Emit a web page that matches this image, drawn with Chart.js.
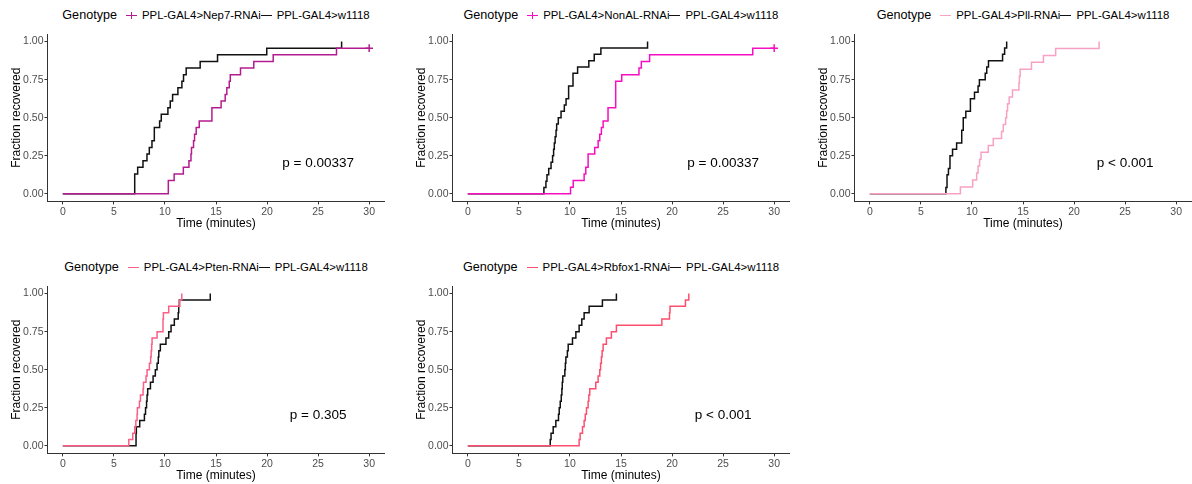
<!DOCTYPE html>
<html>
<head>
<meta charset="utf-8">
<script src="https://cdn.jsdelivr.net/npm/chart.js@4.4.0/dist/chart.umd.min.js"></script>
<style>
  body { margin: 0; background: #fff; width: 1192px; height: 484px; overflow: hidden; position: relative;
         font-family: "Liberation Sans", Arial, sans-serif; color: #000; }
  canvas.panel { position: absolute; }
  .legend { position: absolute; height: 16px; display: flex; align-items: center; justify-content: center; white-space: nowrap; }
  .legend .title { font-size: 12.6px; margin-right: 9px; }
  .legend .lbl { font-size: 11.4px; }
  .key { position: relative; width: 11px; height: 12px; margin-right: 5px; flex: none; }
  .key::before { content: ""; position: absolute; left: 0; right: 0; top: 5.5px; height: 1.5px; background: var(--c); }
  .key.cross::after { content: ""; position: absolute; left: 4.8px; width: 1.5px; top: 2.5px; height: 7.5px; background: var(--c); }
</style>
</head>
<body>
<script>
// recovery curves: event times (minutes) and cumulative fraction recovered
const nep7Time = [0, 10.33, 10.9, 11.8, 12.35, 12.55, 12.6, 12.8, 12.9, 13.06, 13.36, 14.6, 15.5, 15.9, 16.06, 16.3, 16.4, 17.4, 18.7, 20.6, 26.8, 30];
const nep7Frac = [0, 0.087, 0.130, 0.174, 0.217, 0.261, 0.304, 0.348, 0.391, 0.435, 0.478, 0.565, 0.609, 0.652, 0.696, 0.739, 0.783, 0.826, 0.870, 0.913, 0.957, 0.957];
const nep7CtrlTime = [0, 7.04, 7.33, 7.85, 8.24, 8.47, 8.73, 8.96, 9.48, 9.64, 10.29, 10.52, 10.75, 11.27, 11.66, 11.82, 12.08, 13.45, 15.15, 19.97, 27.3];
const nep7CtrlFrac = [0, 0.130, 0.174, 0.217, 0.261, 0.304, 0.348, 0.435, 0.478, 0.522, 0.565, 0.609, 0.652, 0.696, 0.739, 0.783, 0.826, 0.870, 0.913, 0.957, 1.0];

const nonalTime = [0, 10.06, 10.32, 11.39, 11.55, 11.78, 12.43, 12.76, 12.92, 13.08, 13.25, 13.73, 14.48, 15.07, 16.76, 16.99, 17.8, 27.9, 30];
const nonalFrac = [0, 0.043, 0.087, 0.130, 0.174, 0.261, 0.304, 0.348, 0.391, 0.435, 0.478, 0.565, 0.739, 0.783, 0.826, 0.870, 0.913, 0.957, 0.957];
const nonalCtrlTime = [0, 7.45, 7.65, 7.75, 7.92, 8.15, 8.3, 8.4, 8.47, 8.55, 8.64, 8.7, 8.86, 9.13, 9.45, 9.62, 9.87, 10.3, 10.75, 11.85, 12.38, 13.03, 17.6];
const nonalCtrlFrac = [0, 0.042, 0.083, 0.125, 0.167, 0.208, 0.25, 0.292, 0.333, 0.375, 0.417, 0.458, 0.5, 0.542, 0.583, 0.625, 0.708, 0.792, 0.833, 0.875, 0.917, 0.958, 1.0];

const pllTime = [0, 8.87, 10.07, 10.46, 10.6, 10.75, 10.89, 11.6, 12.09, 12.9, 13.07, 13.3, 13.4, 13.49, 13.65, 13.97, 14.6, 14.65, 14.72, 15.83, 17.0, 18.2, 22.45];
const pllFrac = [0, 0.045, 0.091, 0.136, 0.182, 0.227, 0.273, 0.318, 0.364, 0.409, 0.455, 0.5, 0.545, 0.591, 0.636, 0.682, 0.727, 0.773, 0.818, 0.864, 0.909, 0.955, 1.0];
const pllCtrlTime = [0, 7.45, 7.56, 7.7, 7.85, 8.1, 8.5, 9.0, 9.15, 9.4, 9.85, 10.25, 10.6, 10.73, 11.3, 11.45, 11.62, 13.0, 13.2, 13.4];
const pllCtrlFrac = [0, 0.042, 0.125, 0.167, 0.25, 0.292, 0.333, 0.417, 0.5, 0.542, 0.625, 0.667, 0.708, 0.75, 0.792, 0.833, 0.875, 0.917, 0.958, 1.0];

const ptenTime = [0, 6.46, 6.85, 7.04, 7.15, 7.27, 7.3, 7.5, 7.6, 7.86, 7.9, 8.15, 8.25, 8.48, 8.6, 8.65, 8.7, 8.74, 9.23, 9.81, 9.85, 10.37, 11.45, 11.65];
const ptenFrac = [0, 0.042, 0.083, 0.125, 0.167, 0.208, 0.25, 0.292, 0.333, 0.375, 0.417, 0.458, 0.5, 0.542, 0.583, 0.625, 0.667, 0.708, 0.75, 0.833, 0.875, 0.917, 0.958, 1.0];
const ptenCtrlTime = [0, 7.17, 7.2, 7.53, 7.99, 8.1, 8.2, 8.25, 8.31, 8.58, 8.84, 9.06, 9.23, 9.35, 9.4, 9.55, 10.1, 10.37, 10.6, 10.92, 11.3, 11.35, 11.41, 14.44];
const ptenCtrlFrac = [0, 0.083, 0.125, 0.167, 0.208, 0.25, 0.292, 0.333, 0.375, 0.417, 0.458, 0.5, 0.542, 0.583, 0.625, 0.667, 0.708, 0.75, 0.792, 0.833, 0.875, 0.917, 0.958, 1.0];

const rbfoxTime = [0, 10.9, 11.0, 11.23, 11.39, 11.5, 11.62, 11.78, 11.85, 11.94, 12.53, 12.76, 12.92, 13.0, 13.08, 13.15, 13.25, 13.57, 14.06, 14.55, 19.0, 19.75, 19.8, 21.31, 21.64];
const rbfoxFrac = [0, 0.042, 0.083, 0.125, 0.167, 0.208, 0.25, 0.292, 0.333, 0.375, 0.417, 0.458, 0.5, 0.542, 0.583, 0.625, 0.667, 0.708, 0.75, 0.792, 0.833, 0.875, 0.917, 0.958, 1.0];
const rbfoxCtrlTime = [0, 8.07, 8.15, 8.36, 8.62, 8.88, 8.95, 9.05, 9.15, 9.21, 9.25, 9.3, 9.5, 9.55, 9.6, 9.75, 9.83, 10.25, 10.58, 10.9, 11.16, 11.39, 11.88, 13.18, 14.55];
const rbfoxCtrlFrac = [0, 0.042, 0.083, 0.125, 0.167, 0.208, 0.25, 0.292, 0.333, 0.375, 0.417, 0.458, 0.5, 0.542, 0.583, 0.625, 0.667, 0.708, 0.75, 0.792, 0.833, 0.875, 0.917, 0.958, 1.0];

// censored flies (still down at the end of the 30 min window)
const nep7CensorTime = [30];
const nep7CensorFrac = [0.957];
const nonalCensorTime = [30];
const nonalCensorFrac = [0.957];

const xTicks = [0, 5, 10, 15, 20, 25, 30];
const yTicks = [0, 0.25, 0.5, 0.75, 1];
const pValues = ["p = 0.00337", "p = 0.00337", "p < 0.001", "p = 0.305", "p < 0.001"];
const pLabelX = 25;
const pLabelY = 0.2;
const ctrlName = "PPL-GAL4>w1118";

const FONT = '"Liberation Sans", Arial, sans-serif';

const panels = [
  { name: "PPL-GAL4>Nep7-RNAi", color: "#b31c8e", t: nep7Time, f: nep7Frac, ct: nep7CtrlTime, cf: nep7CtrlFrac, xt: nep7CensorTime, xf: nep7CensorFrac, col: 0, row: 0 },
  { name: "PPL-GAL4>NonAL-RNAi", color: "#f50fc0", t: nonalTime, f: nonalFrac, ct: nonalCtrlTime, cf: nonalCtrlFrac, xt: nonalCensorTime, xf: nonalCensorFrac, col: 1, row: 0 },
  { name: "PPL-GAL4>Pll-RNAi", color: "#f7a1c3", t: pllTime, f: pllFrac, ct: pllCtrlTime, cf: pllCtrlFrac, col: 2, row: 0 },
  { name: "PPL-GAL4>Pten-RNAi", color: "#fb5f88", t: ptenTime, f: ptenFrac, ct: ptenCtrlTime, cf: ptenCtrlFrac, col: 0, row: 1 },
  { name: "PPL-GAL4>Rbfox1-RNAi", color: "#fc4f6e", t: rbfoxTime, f: rbfoxFrac, ct: rbfoxCtrlTime, cf: rbfoxCtrlFrac, col: 1, row: 1 },
];

const colLeft = [0, 405, 807];
const rowTop = [24, 276];
const legendY = [7, 259];
const axisW = 47.5, plotW = 337;

const pLabelPlugin = {
  id: "pLabel",
  afterDatasetsDraw(chart, args, opts) {
    const { ctx, scales: { x, y } } = chart;
    ctx.save();
    ctx.font = "13.5px " + FONT;
    ctx.fillStyle = "#000";
    ctx.textAlign = "center";
    ctx.textBaseline = "middle";
    ctx.fillText(opts.text, x.getPixelForValue(pLabelX), y.getPixelForValue(pLabelY));
    ctx.restore();
  }
};

function pts(t, f) {
  return t.map((v, i) => ({ x: v, y: f[i] }));
}

function keyEl(color, cross) {
  const k = document.createElement("span");
  k.className = cross ? "key cross" : "key";
  k.style.setProperty("--c", color);
  return k;
}

function addLegend(p) {
  const lg = document.createElement("div");
  lg.className = "legend";
  lg.style.left = (colLeft[p.col] + axisW) + "px";
  lg.style.width = plotW + "px";
  lg.style.top = legendY[p.row] + "px";
  const title = document.createElement("span");
  title.className = "title";
  title.textContent = "Genotype";
  lg.appendChild(title);
  lg.appendChild(keyEl(p.color, !!p.xt));
  const l1 = document.createElement("span");
  l1.className = "lbl";
  l1.textContent = p.name;
  lg.appendChild(l1);
  lg.appendChild(keyEl("#111", false));
  const l2 = document.createElement("span");
  l2.className = "lbl";
  l2.textContent = ctrlName;
  lg.appendChild(l2);
  document.body.appendChild(lg);
}

panels.forEach((p, i) => {
  addLegend(p);
  const cv = document.createElement("canvas");
  cv.className = "panel";
  cv.width = 390;
  cv.height = 216;
  cv.style.left = colLeft[p.col] + "px";
  cv.style.top = rowTop[p.row] + "px";
  document.body.appendChild(cv);

  const datasets = [
    { data: pts(p.t, p.f), borderColor: p.color, borderWidth: 1.5, stepped: true, pointRadius: 0, fill: false },
    { data: pts(p.ct, p.cf), borderColor: "#111", borderWidth: 1.5, stepped: true, pointRadius: 0, fill: false },
  ];
  if (p.xt) {
    datasets.push({ data: pts(p.xt, p.xf), showLine: false, pointStyle: "cross", pointRadius: 3.8,
                    borderColor: p.color, borderWidth: 1.5 });
  }

  new Chart(cv, {
    type: "line",
    data: { datasets },
    plugins: [pLabelPlugin],
    options: {
      responsive: false,
      animation: false,
      events: [],
      layout: { padding: { top: 10, right: 5.5, bottom: 9.3, left: 0 } },
      plugins: {
        legend: { display: false },
        tooltip: { enabled: false },
        pLabel: { text: pValues[i] },
      },
      scales: {
        x: {
          type: "linear",
          min: -1.5,
          max: 31.5,
          afterBuildTicks: s => { s.ticks = xTicks.map(v => ({ value: v })); },
          afterFit: s => { s.height = 29.3; },
          ticks: { color: "#4d4d4d", font: { family: FONT, size: 10.5 }, padding: 1, maxRotation: 0 },
          grid: { drawOnChartArea: false, tickLength: 3, color: "#333", lineWidth: 1 },
          border: { display: true, color: "#333", width: 1 },
          title: { display: true, text: "Time (minutes)", color: "#000", font: { family: FONT, size: 12 }, padding: { top: 0, bottom: 0 } },
        },
        y: {
          type: "linear",
          min: -0.05,
          max: 1.05,
          afterBuildTicks: s => { s.ticks = yTicks.map(v => ({ value: v })); },
          afterFit: s => { s.width = axisW; },
          ticks: { color: "#4d4d4d", font: { family: FONT, size: 10.5 }, padding: 1, callback: v => v.toFixed(2) },
          grid: { drawOnChartArea: false, tickLength: 3, color: "#333", lineWidth: 1 },
          border: { display: true, color: "#333", width: 1 },
          title: { display: true, text: "Fraction recovered", color: "#000", font: { family: FONT, size: 12 }, padding: { top: 9, bottom: 0 } },
        },
      },
    },
  });
});
</script>
</body>
</html>
